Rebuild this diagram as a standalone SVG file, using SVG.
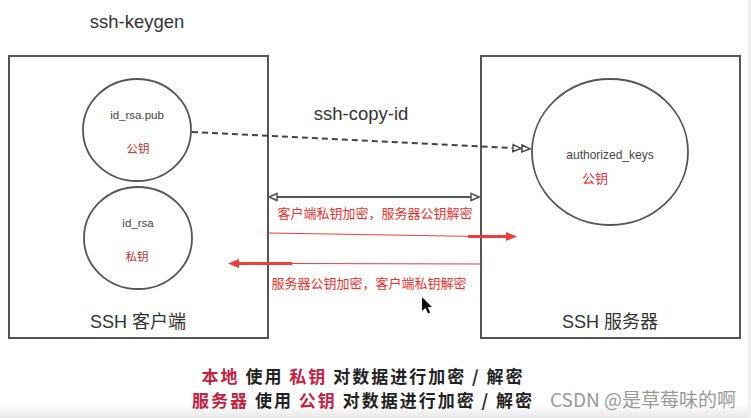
<svg xmlns="http://www.w3.org/2000/svg" width="751" height="418" viewBox="0 0 751 418">
  <style>
    .box { fill: none; stroke: #555; stroke-width: 2; }
    .circ { fill: none; stroke: #555; stroke-width: 1.8; }
    .lat { font-family: "Liberation Sans", "Noto Sans CJK SC", sans-serif; }
    .cjk { font-family: "Noto Sans CJK SC", sans-serif; }
    .title { font-size: 18.5px; fill: #333; }
    .small { font-size: 11.5px; fill: #444; }
    .keyred { font-size: 11.5px; fill: #b8342a; }
    .boxlabel { font-size: 18px; fill: #333; }
    .redmid { font-size: 13px; fill: #f0302c; }
    .legend { font-size: 17px; font-weight: bold; letter-spacing: 2px; }
    .hl { fill: #c8203f; }
    .dk { fill: #222; }
    .wm { font-size: 19px; fill: #999; }
  </style>
  <defs>
    <marker id="openTri" viewBox="0 0 10 10" refX="9" refY="5" markerWidth="10" markerHeight="10" markerUnits="userSpaceOnUse" orient="auto-start-reverse">
      <path d="M1,1.5 L9,5 L1,8.5 Z" fill="#fff" stroke="#555" stroke-width="1.5"/>
    </marker>
    <marker id="dblTri" viewBox="0 0 20 10" refX="0" refY="5" markerWidth="20" markerHeight="10" markerUnits="userSpaceOnUse" orient="auto">
      <path d="M1,1.5 L9,5 L1,8.5 Z M10,1.5 L18,5 L10,8.5 Z" fill="#fff" stroke="#444" stroke-width="1.5"/>
    </marker>
    <marker id="redHead" viewBox="0 0 12 12" refX="0" refY="6" markerWidth="12" markerHeight="12" markerUnits="userSpaceOnUse" orient="auto">
      <path d="M0,1.5 L11,6 L0,10.5 Z" fill="#f03c3c"/>
    </marker>
    <linearGradient id="bottomShade" x1="0" y1="0" x2="0" y2="1">
      <stop offset="0" stop-color="#ffffff"/>
      <stop offset="1" stop-color="#e8e8e8"/>
    </linearGradient>
  </defs>

  <rect x="0" y="0" width="751" height="418" fill="#ffffff"/>
  <rect x="0" y="404" width="751" height="14" fill="url(#bottomShade)"/>
  <rect x="748" y="0" width="3" height="418" fill="#f0f0f0"/>

  <text class="lat title" x="137" y="28" text-anchor="middle">ssh-keygen</text>
  <text class="lat title" x="361" y="120" text-anchor="middle">ssh-copy-id</text>

  <g id="client">
    <rect class="box" x="9" y="56" width="259" height="282"/>
    <text class="lat boxlabel" x="138" y="328" text-anchor="middle">SSH 客户端</text>
  </g>

  <g id="server">
    <rect class="box" x="481" y="56" width="259" height="282"/>
    <text class="lat boxlabel" x="610" y="328" text-anchor="middle">SSH 服务器</text>
  </g>

  <g id="id_rsa_pub">
    <ellipse class="circ" cx="137" cy="130" rx="54" ry="51"/>
    <text class="lat small" x="137" y="119" text-anchor="middle">id_rsa.pub</text>
    <text class="cjk keyred" x="138" y="153" text-anchor="middle">公钥</text>
  </g>

  <g id="id_rsa">
    <ellipse class="circ" cx="138" cy="238" rx="54" ry="51"/>
    <text class="lat small" x="138" y="227" text-anchor="middle">id_rsa</text>
    <text class="cjk keyred" x="137" y="261" text-anchor="middle">私钥</text>
  </g>

  <g id="authorized_keys">
    <ellipse class="circ" cx="610" cy="152" rx="78" ry="73"/>
    <text class="lat small" x="610" y="159" text-anchor="middle" style="font-size:12px">authorized_keys</text>
    <text class="cjk" x="595" y="183" text-anchor="middle" style="font-size:13px;fill:#f03030">公钥</text>
  </g>

  <g id="connectors">
    <line x1="192" y1="132" x2="512" y2="148" stroke="#444" stroke-width="2" stroke-dasharray="6 4" marker-end="url(#dblTri)"/>
    <line x1="269" y1="197" x2="479" y2="197" stroke="#555" stroke-width="2" marker-start="url(#openTri)" marker-end="url(#openTri)"/>
    <line x1="268" y1="233" x2="480" y2="236.5" stroke="#f03c3c" stroke-width="1.2"/>
    <line x1="468" y1="236.5" x2="506" y2="236.5" stroke="#f03c3c" stroke-width="3" marker-end="url(#redHead)"/>
    <line x1="482" y1="264" x2="285" y2="263.5" stroke="#f03c3c" stroke-width="1.2"/>
    <line x1="292" y1="263.5" x2="239" y2="263.5" stroke="#f03c3c" stroke-width="3" marker-end="url(#redHead)"/>
  </g>

  <text class="cjk redmid" x="375" y="218" text-anchor="middle">客户端私钥加密，服务器公钥解密</text>
  <text class="cjk redmid" x="369" y="288" text-anchor="middle">服务器公钥加密，客户端私钥解密</text>

  <path d="M422,297 L422,311 L425.5,308 L428,313.5 L430.2,312.5 L427.8,307.2 L432,307 Z" fill="#111"/>

  <g id="legend">
    <text class="cjk legend" x="363" y="383" text-anchor="middle"><tspan class="hl">本地</tspan><tspan class="dk"> 使用 </tspan><tspan class="hl">私钥</tspan><tspan class="dk"> 对数据进行加密 / 解密</tspan></text>
    <text class="cjk legend" x="363" y="407" text-anchor="middle"><tspan class="hl">服务器</tspan><tspan class="dk"> 使用 </tspan><tspan class="hl">公钥</tspan><tspan class="dk"> 对数据进行加密 / 解密</tspan></text>
  </g>

  <text class="cjk wm" x="736" y="407" text-anchor="end">CSDN @是草莓味的啊</text>
</svg>
